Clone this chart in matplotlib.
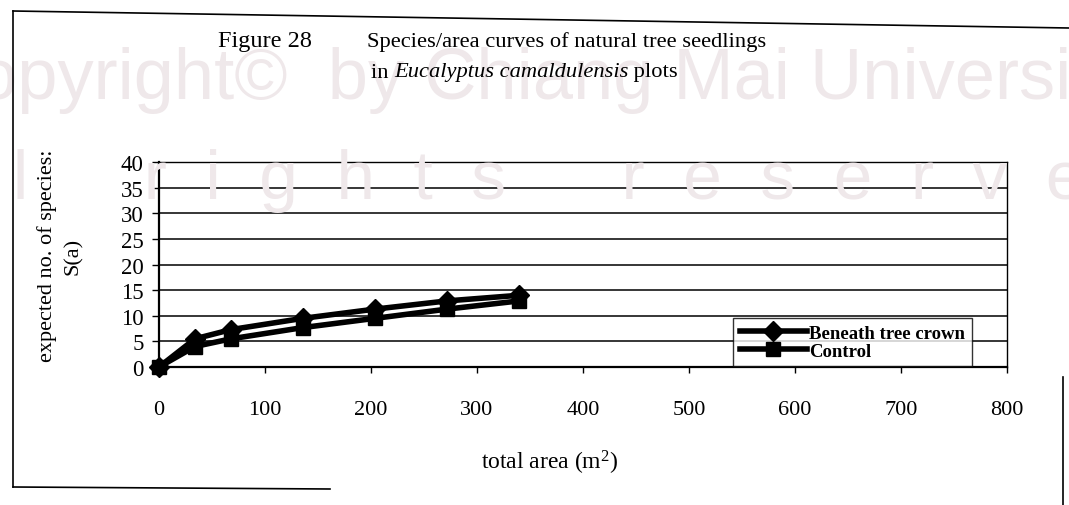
import matplotlib
matplotlib.use("Agg")
import matplotlib.pyplot as plt
from matplotlib.lines import Line2D

# ---- data ----
area = [0, 34, 68, 136, 204, 272, 340]
beneath = [0, 5.5, 7.3, 9.5, 11.3, 12.9, 14.0]
control = [0, 4.0, 5.5, 7.7, 9.5, 11.3, 12.9]
x_ticks = [0, 100, 200, 300, 400, 500, 600, 700, 800]
y_ticks = [0, 5, 10, 15, 20, 25, 30, 35, 40]
series_names = ["Beneath tree crown", "Control"]

W, H = 1069, 506
plt.rcParams['font.family'] = ['Liberation Serif', 'DejaVu Serif']
plt.rcParams['mathtext.fontset'] = 'custom'
plt.rcParams['mathtext.rm'] = 'Liberation Serif'
plt.rcParams['mathtext.it'] = 'Liberation Serif:italic'
fig = plt.figure(figsize=(W / 100, H / 100), dpi=100)

def fx(px):
    return px / W

def fy(py):
    return 1 - py / H

# watermark (faint)
wm = "#efe8ea"
fig.text(fx(-75), fy(80), "Copyright\u00a9  by Chiang Mai University", fontsize=52,
         family='Liberation Sans', color=wm, va='center', ha='left', zorder=0)
fig.text(fx(-122), fy(181),
         "A  l  l      r  i  g  h  t  s      r  e  s  e  r  v  e  d",
         fontsize=50, family='Liberation Sans', color=wm, va='center', ha='left', zorder=0)

# outer frame
for (x0, y0, x1, y1) in [(13, 12, 1069, 29), (13, 12, 13, 488), (13, 488, 330, 490),
                         (1063, 378, 1063, 506)]:
    fig.add_artist(Line2D([fx(x0), fx(x1)], [fy(y0), fy(y1)], color='black', lw=1.2,
                          transform=fig.transFigure))

ax = fig.add_axes([fx(159), fy(368), fx(1007) - fx(159), fy(163) - fy(368)])
ax.set_facecolor('none')
ax.set_xlim(0, 800)
ax.set_ylim(0, 40)
ax.set_xticks(x_ticks)
ax.set_yticks(y_ticks)
ax.set_xticklabels([str(v) for v in x_ticks], fontsize=16)
ax.set_yticklabels([str(v) for v in y_ticks], fontsize=16.5)
ax.tick_params(axis='x', direction='out', length=4, width=1, pad=20)
ax.tick_params(axis='y', direction='out', length=5, width=1, pad=6)
ax.yaxis.grid(True, color='black', lw=1.1)
ax.set_axisbelow(True)
for s in ['left', 'bottom']:
    ax.spines[s].set_linewidth(1.6)
for s in ['top', 'right']:
    ax.spines[s].set_linewidth(1.0)
    ax.spines[s].set_linestyle((0, (2, 1)))

ax.plot(area, beneath, color='black', lw=4, marker='D', markersize=10,
        label=series_names[0], zorder=3, clip_on=False)
ax.plot(area, control, color='black', lw=4, marker='s', markersize=10,
        label=series_names[1], zorder=3, clip_on=False)

leg = ax.legend(loc='upper left', bbox_to_anchor=((733 - 159) / 848, (368 - 319) / 205),
                frameon=True, fancybox=False, edgecolor='black', fontsize=13.5,
                handlelength=3.6, handletextpad=0.1, borderpad=0.35, labelspacing=0.05,
                borderaxespad=0)
leg.get_frame().set_linewidth(1.0)
for t in leg.get_texts():
    t.set_fontweight('bold')

# axis labels
fig.text(fx(550), fy(463), "total area (m$^2$)", fontsize=17, ha='center', va='center')
fig.text(fx(60), fy(256), "expected no. of species:\nS(a)", fontsize=16, rotation=90,
         ha='center', va='center', multialignment='center', linespacing=1.45)

# title
fig.text(fx(218), fy(42), "Figure 28", fontsize=17.5, ha='left', va='center')
fig.text(fx(367), fy(42), "Species/area curves of natural tree seedlings", fontsize=16.2,
         ha='left', va='center')
fig.canvas.draw()
r = fig.canvas.get_renderer()
x = fx(371)
for txt, style in [("in ", 'normal'), ("Eucalyptus camaldulensis", 'italic'), (" plots", 'normal')]:
    t = fig.text(x, fy(73), txt, fontsize=16.2, ha='left', va='center', style=style)
    bb = t.get_window_extent(renderer=r)
    x += bb.width / W

fig.savefig("out.png", dpi=100)
